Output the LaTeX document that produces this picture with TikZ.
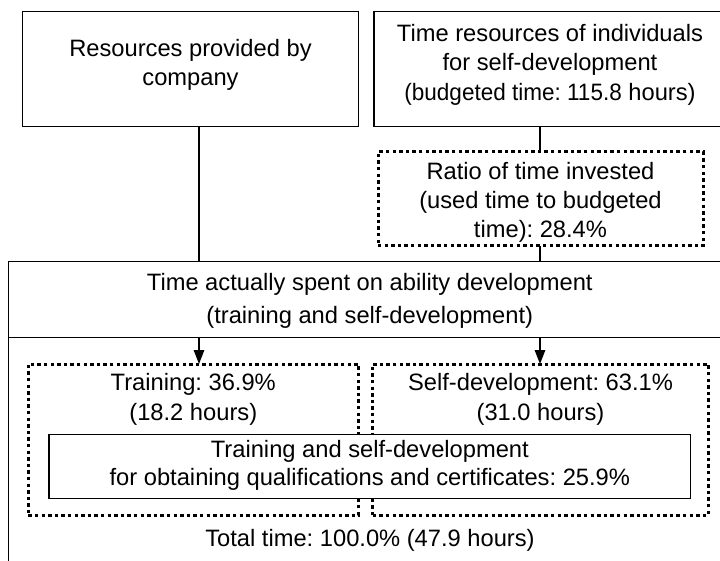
\documentclass[tikz,border=0pt]{standalone}
\usepackage{fontspec}
\usepackage{graphicx}
\setmainfont{Liberation Sans}
\usetikzlibrary{arrows.meta}
\newcommand{\topfix}{\rule{0pt}{20pt}}
\frenchspacing
\begin{document}
\begin{tikzpicture}[x=1pt,y=-1pt,
  solidbox/.style={draw, line width=1.5pt, inner sep=0pt, outer sep=0pt, fill=white},
  dotbox/.style={draw, line width=3pt, dash pattern=on 3.4pt off 3.2pt, inner sep=0pt, outer sep=0pt},
  txt/.style={anchor=north, inner sep=0pt, outer sep=0pt, align=center, font=\fontsize{23.7}{29.3}\selectfont},
  conn/.style={line width=1.5pt},
  arr/.style={line width=1.5pt, -{Triangle[length=14pt,width=10.5pt]}}
]
\useasboundingbox (0,0) rectangle (720,561);
\clip (0,0) rectangle (720,561);

\coordinate (xL) at (199,0);
\coordinate (xR) at (540,0);

% top boxes
\node[solidbox, minimum width=335.6pt, minimum height=115pt] (lb) at (190.5,69.2) {};
\node[solidbox, minimum width=352pt, minimum height=115pt] (rb) at (550,69.2) {};
\node[dotbox, minimum width=325pt, minimum height=94pt] (ratio) at (540.5,199) {};

% main header box
\node[solidbox, minimum width=722.5pt, minimum height=75.6pt] (head) at (369.75,299.5) {};
\coordinate (mainbot) at (8.5,600);
\draw[conn] (head.south west) -- (head.south west |- mainbot);

% dotted boxes and inner box
\node[dotbox, minimum width=330pt, minimum height=151pt] (ltd) at (193.3,439.5) {};
\node[dotbox, minimum width=335.6pt, minimum height=151pt] (rtd) at (540.5,439.5) {};
\node[solidbox, minimum width=641.7pt, minimum height=64.4pt] (inner) at (369.85,466.5) {};

% connectors
\draw[conn] (lb.south -| xL) -- (head.north -| xL);
\draw[conn] (rb.south -| xR) -- (ratio.north -| xR);
\draw[conn] (ratio.south -| xR) -- (head.north -| xR);
\draw[arr] (head.south -| xL) -- (ltd.north -| xL);
\draw[arr] (head.south -| xR) -- (rtd.north -| xR);

% texts
\node[txt] (tlb) at (190.5,36.7) {\topfix Resources provided by\\company};
\node[txt] (trb) at (550,21.7) {\topfix Time resources of individuals\\for self-development\\\scalebox{0.95}[1]{(budgeted time: 115.8} hours)};
\node[txt, font=\fontsize{23.7}{28.7}\selectfont] (tratio) at (540.5,160) {\topfix Ratio of time invested\\(used time to budgeted\\time): 28.4\%};
\node[txt, font=\fontsize{23.7}{32.6}\selectfont] (thead) at (369.75,270.7) {\topfix Time actually spent on ability development\\(training and self-development)};
\node[txt, font=\fontsize{23.7}{30}\selectfont] (tltd) at (193.3,370) {\topfix Training: 36.9\%\\(18.2 hours)};
\node[txt, font=\fontsize{23.7}{29.3}\selectfont] (trtd) at (540.5,370.7) {\topfix Self-development: 63.1\%\\(31.0 hours)};
\node[txt, font=\fontsize{23.7}{28}\selectfont] (tinner) at (369.85,437) {\topfix Training and self-development\\for obtaining qualifications and certificates: 25.9\%};
\node[txt] (ttotal) at (370,526.7) {\topfix Total time: 100.0\% (47.9 hours)};
\end{tikzpicture}
\end{document}
